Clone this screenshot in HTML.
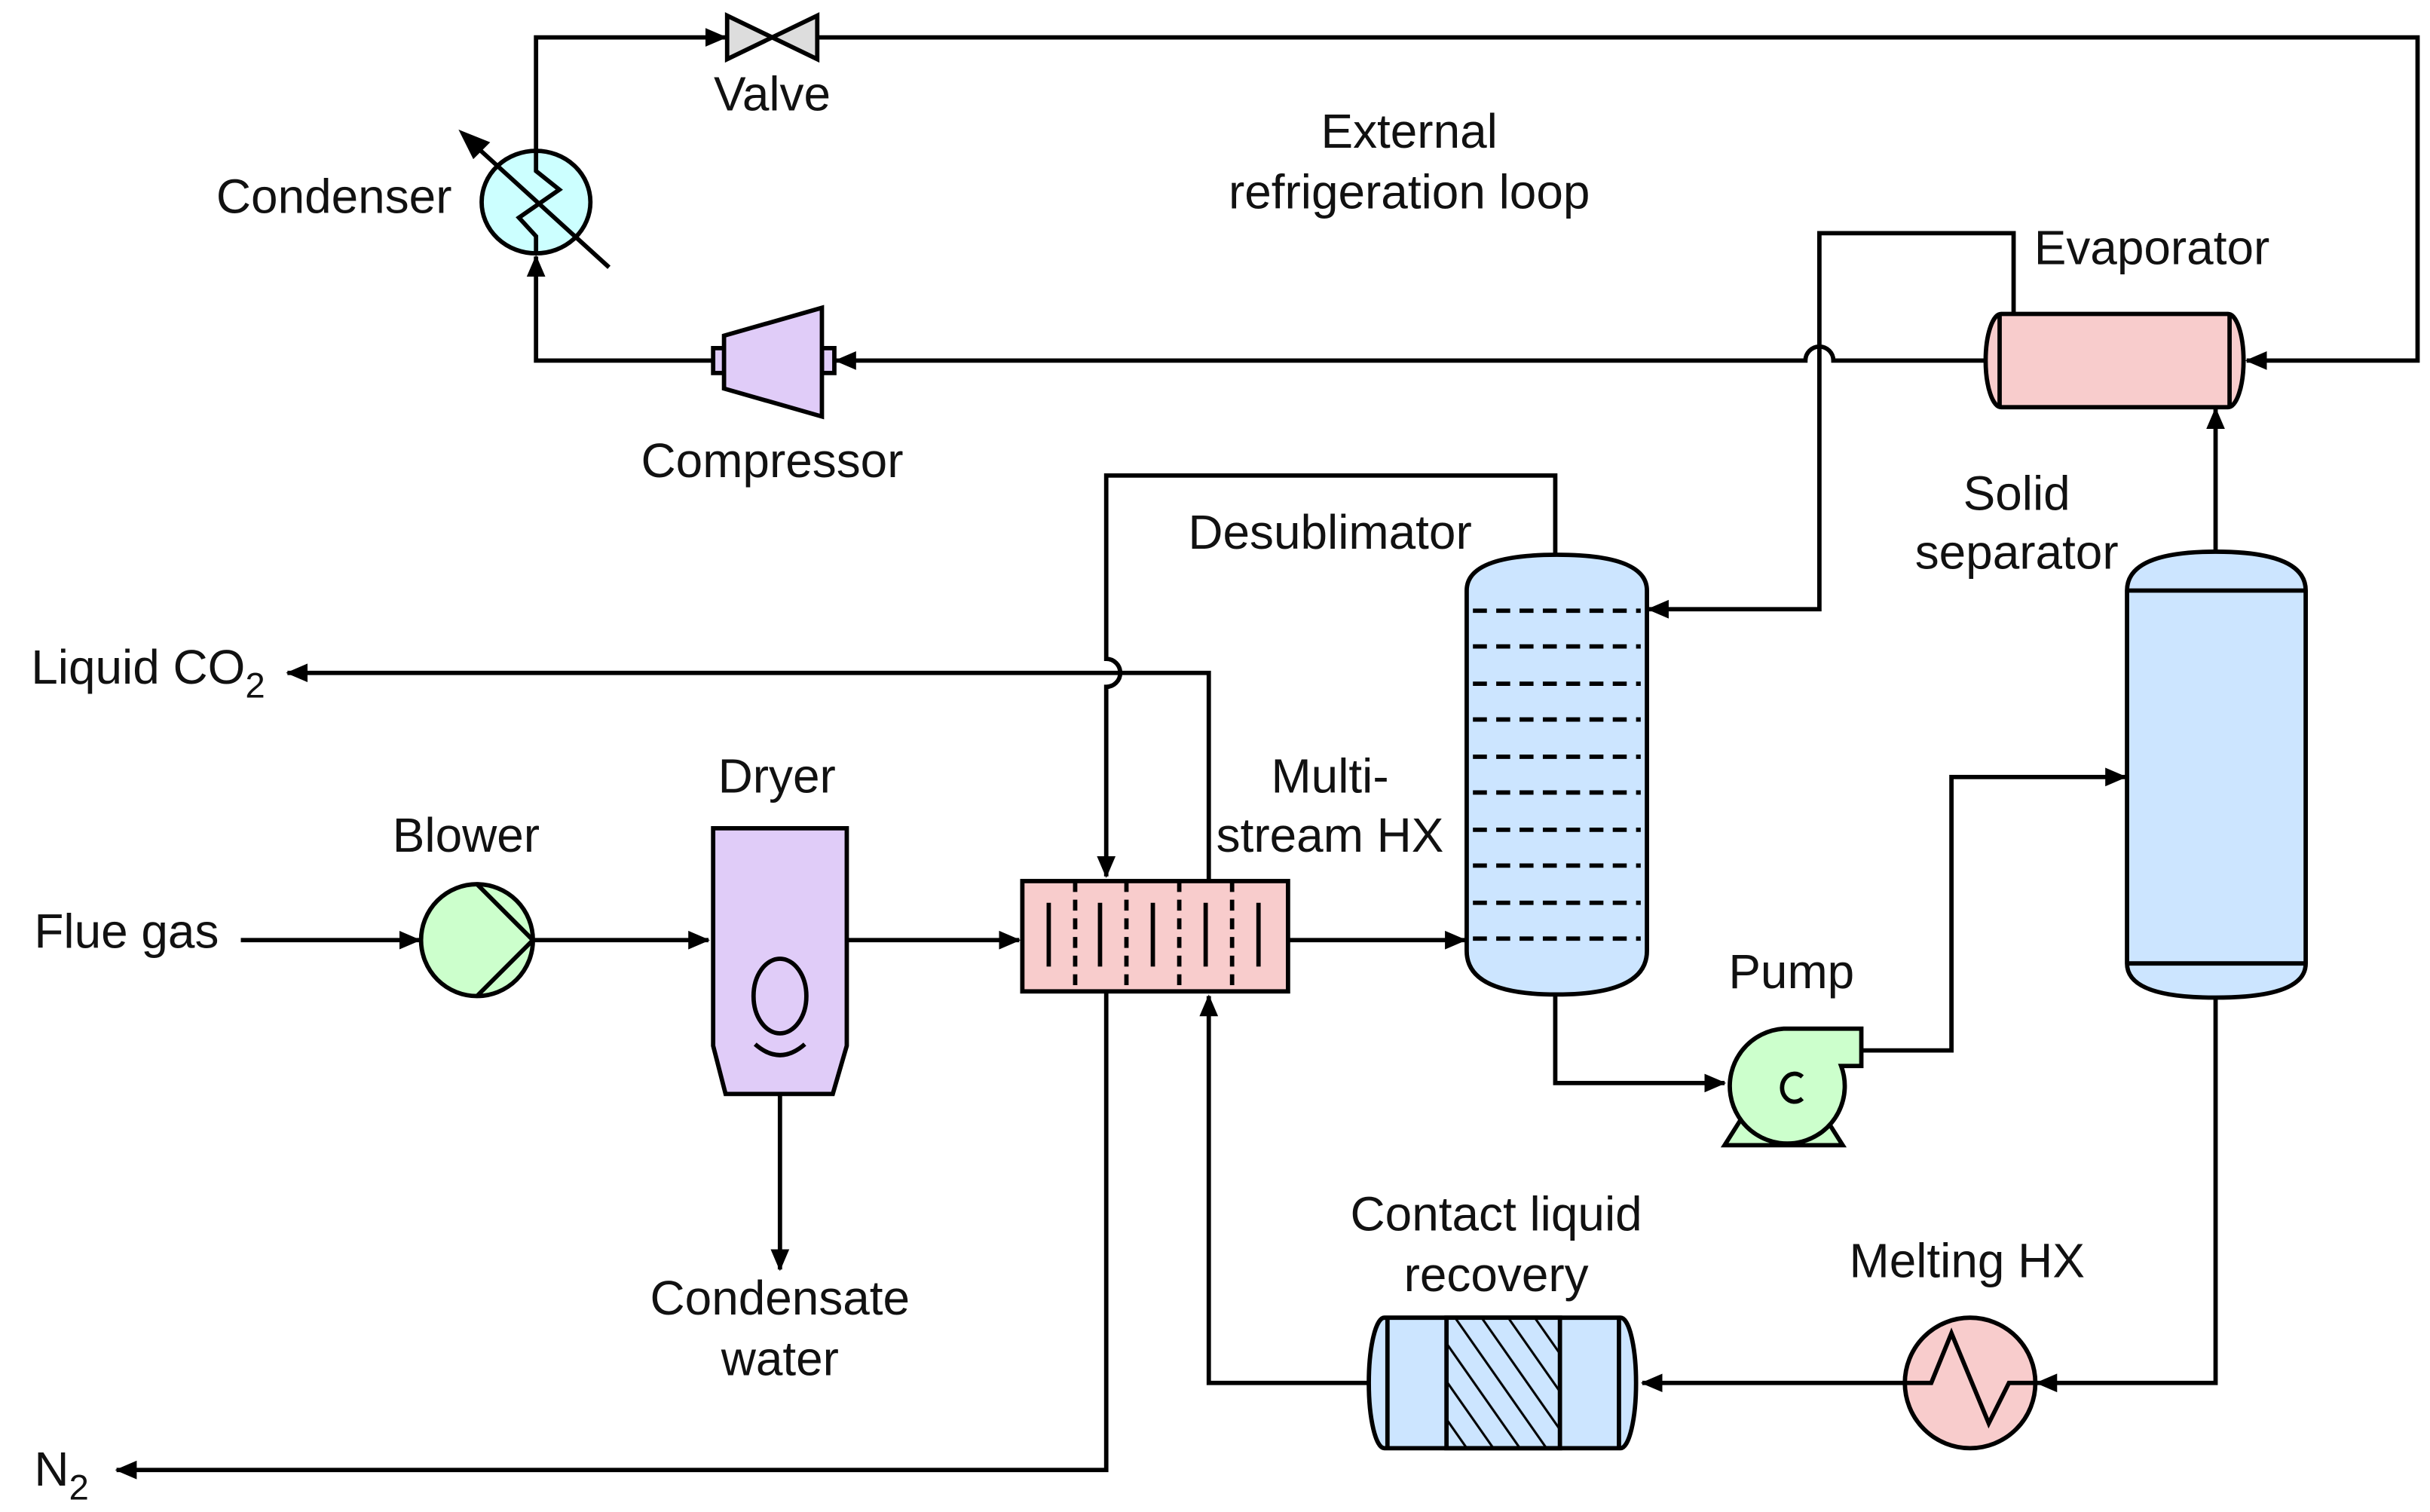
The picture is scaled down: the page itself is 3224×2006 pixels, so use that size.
<!DOCTYPE html>
<html><head><meta charset="utf-8"><style>
html,body{margin:0;padding:0;background:#fff;}
svg{display:block;}
text{font-family:"Liberation Sans",Arial,sans-serif;font-size:31px;fill:#111;}
</style></head><body>
<svg width="3224" height="2006" viewBox="0 0 1564 973" xmlns="http://www.w3.org/2000/svg">
<defs>
<marker id="a" markerWidth="14" markerHeight="14" refX="13" refY="7" orient="auto" markerUnits="userSpaceOnUse">
<path d="M0,1 L14,7 L0,13 z" fill="#000"/></marker>
<pattern id="h" width="14" height="14" patternUnits="userSpaceOnUse" patternTransform="rotate(-35)">
<rect width="14" height="14" fill="#cce5ff"/><line x1="0" y1="0" x2="0" y2="14" stroke="#000" stroke-width="3"/></pattern>
</defs>
<g fill="none" stroke="#000" stroke-width="2.8">
<path d="M345,97 V24 H467" marker-end="url(#a)"/>
<path d="M526,24 H1556 V232 H1446" marker-end="url(#a)"/>
<path d="M458,232 H345 V165" marker-end="url(#a)"/>
<path d="M1278,232 H1180 a9,9 0 0 0 -18,0 H538" marker-end="url(#a)"/>
<path d="M1296,202 V150 H1171 V392 H1061" marker-end="url(#a)"/>
<path d="M1426,355 V263" marker-end="url(#a)"/>
<path d="M155,605 H270" marker-end="url(#a)"/>
<path d="M343,605 H456" marker-end="url(#a)"/>
<path d="M545,605 H656" marker-end="url(#a)"/>
<path d="M830,605 H943" marker-end="url(#a)"/>
<path d="M1001,357 V306 H712 V424 a9,9 0 0 1 0,18 V564" marker-end="url(#a)"/>
<path d="M778,567 V433 H185" marker-end="url(#a)"/>
<path d="M712,638 V946 H75" marker-end="url(#a)"/>
<path d="M502,704 V817" marker-end="url(#a)"/>
<path d="M880,890 H778 V641" marker-end="url(#a)"/>
<path d="M1001,640 V697 H1110" marker-end="url(#a)"/>
<path d="M1198,676 H1256 V500 H1368" marker-end="url(#a)"/>
<path d="M1426,642 V890 H1311" marker-end="url(#a)"/>
<path d="M1226,890 H1057" marker-end="url(#a)"/>
</g>
<g stroke="#000" stroke-width="2.8">
<path d="M468,10 L526,38 V10 L468,38 z" fill="#ddd"/>
<ellipse cx="345" cy="130" rx="35" ry="33" fill="#ccffff"/>
<path d="M345,97 V110 L360,122 L334,140 L345,152 V163" fill="none"/>
<line x1="392" y1="172" x2="304" y2="92" />
<path d="M298,86 L313,92 L305,100 z" fill="#000"/>
<rect x="459" y="224" width="8" height="16" fill="#e0ccf8"/>
<rect x="529" y="224" width="8" height="16" fill="#e0ccf8"/>
<path d="M466,216 L529,198 V268 L466,250 z" fill="#e0ccf8"/>
<rect x="1278" y="202" width="166" height="60" rx="10" ry="30" fill="#f8cccc"/>
<line x1="1287" y1="202" x2="1287" y2="262"/><line x1="1435" y1="202" x2="1435" y2="262"/>
<path d="M944,380 Q944,357 1002,357 Q1060,357 1060,380 V612 Q1060,640 1002,640 Q944,640 944,612 z" fill="#cce5ff"/>
<g stroke-dasharray="9,6">
<line x1="948" y1="393" x2="1056" y2="393"/><line x1="948" y1="416" x2="1056" y2="416"/>
<line x1="948" y1="440" x2="1056" y2="440"/><line x1="948" y1="463" x2="1056" y2="463"/>
<line x1="948" y1="487" x2="1056" y2="487"/><line x1="948" y1="510" x2="1056" y2="510"/>
<line x1="948" y1="534" x2="1056" y2="534"/><line x1="948" y1="557" x2="1056" y2="557"/>
<line x1="948" y1="581" x2="1056" y2="581"/><line x1="948" y1="604" x2="1056" y2="604"/>
</g>
<path d="M1369,380 Q1369,355 1426,355 Q1484,355 1484,380 V620 Q1484,642 1426,642 Q1369,642 1369,620 z" fill="#cce5ff"/>
<line x1="1369" y1="380" x2="1484" y2="380"/><line x1="1369" y1="620" x2="1484" y2="620"/>
<rect x="658" y="567" width="171" height="71" fill="#f8cccc"/>
<g stroke-dasharray="7,5"><line x1="692" y1="567" x2="692" y2="638"/><line x1="725" y1="567" x2="725" y2="638"/><line x1="759" y1="567" x2="759" y2="638"/><line x1="793" y1="567" x2="793" y2="638"/></g>
<line x1="675" y1="581" x2="675" y2="622"/><line x1="708" y1="581" x2="708" y2="622"/><line x1="742" y1="581" x2="742" y2="622"/><line x1="776" y1="581" x2="776" y2="622"/><line x1="810" y1="581" x2="810" y2="622"/>
<circle cx="307" cy="605" r="36" fill="#ccffcc"/>
<path d="M307,569 L343,605 L307,641" fill="none"/>
<path d="M459,533 H545 V673 L536,704 H467 L459,673 z" fill="#e0ccf8"/>
<ellipse cx="502" cy="641" rx="17" ry="24" fill="none"/>
<path d="M486,672 Q502,686 518,672" fill="none"/>
<path d="M1110,737 L1122,718 H1174 L1186,737 z" fill="#ccffcc"/>
<path d="M1148,662 H1198 V686 H1185 A37,37 0 1 1 1148,662 z" fill="#ccffcc"/>
<path d="M1160,693 A8,9 0 1 0 1160,707" fill="none"/>
<circle cx="1268" cy="890" r="42" fill="#f8cccc"/>
<path d="M1226,890 H1243 L1256,858 L1280,916 L1293,890 H1310" fill="none"/>
<rect x="881" y="848" width="172" height="84" rx="10" ry="42" fill="#cce5ff"/>
<rect x="931" y="848" width="73" height="84" fill="url(#h)"/>
<line x1="893" y1="848" x2="893" y2="932"/><line x1="1042" y1="848" x2="1042" y2="932"/>
</g>
<text x="497" y="71" text-anchor="middle">Valve</text>
<text x="215" y="137" text-anchor="middle">Condenser</text>
<text x="907" y="95" text-anchor="middle">External</text>
<text x="907" y="134" text-anchor="middle">refrigeration loop</text>
<text x="1385" y="170" text-anchor="middle">Evaporator</text>
<text x="497" y="307" text-anchor="middle">Compressor</text>
<text x="1298" y="328" text-anchor="middle">Solid</text>
<text x="1298" y="366" text-anchor="middle">separator</text>
<text x="856" y="353" text-anchor="middle">Desublimator</text>
<text x="20" y="440">Liquid CO<tspan font-size="23" dy="9">2</tspan></text>
<text x="500" y="510" text-anchor="middle">Dryer</text>
<text x="856" y="510" text-anchor="middle">Multi-</text>
<text x="856" y="548" text-anchor="middle">stream HX</text>
<text x="300" y="548" text-anchor="middle">Blower</text>
<text x="22" y="610">Flue gas</text>
<text x="1153" y="636" text-anchor="middle">Pump</text>
<text x="963" y="792" text-anchor="middle">Contact liquid</text>
<text x="963" y="831" text-anchor="middle">recovery</text>
<text x="1266" y="822" text-anchor="middle">Melting HX</text>
<text x="502" y="846" text-anchor="middle">Condensate</text>
<text x="502" y="885" text-anchor="middle">water</text>
<text x="22" y="956">N<tspan font-size="23" dy="9">2</tspan></text>
</svg>
</body></html>
